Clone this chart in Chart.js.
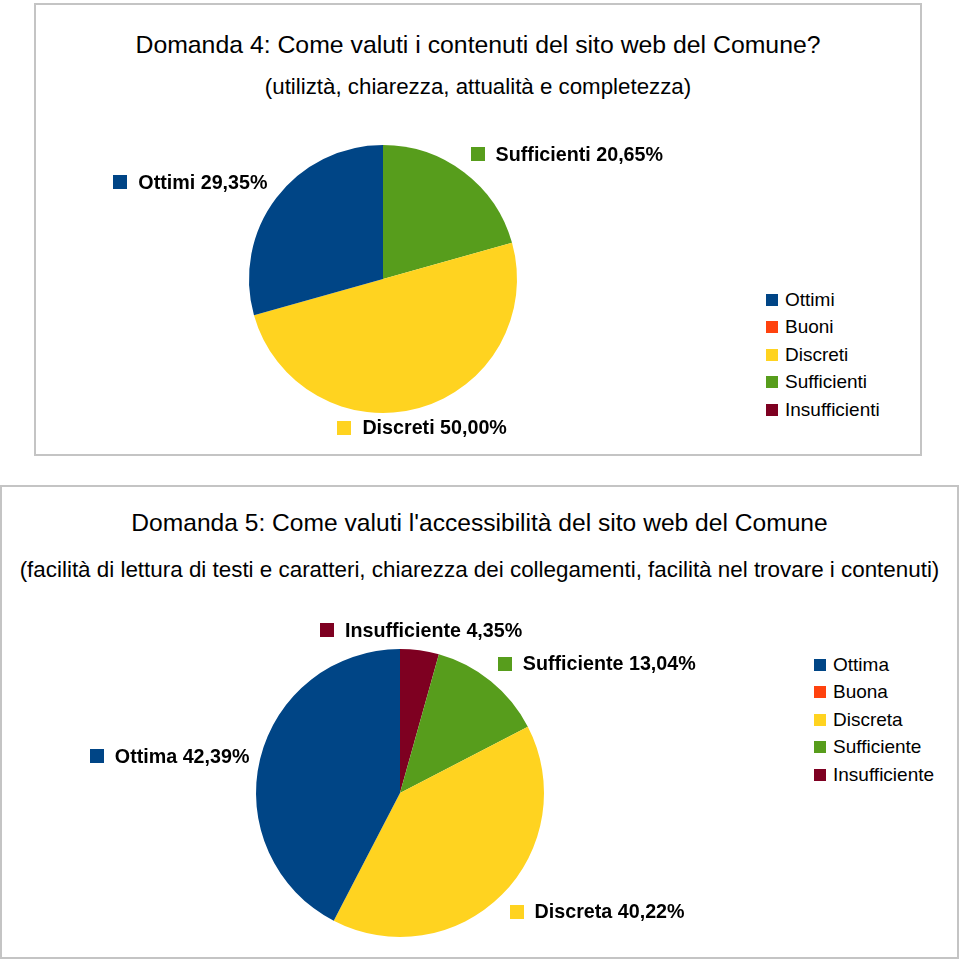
<!DOCTYPE html>
<html><head><meta charset="utf-8">
<script src="https://cdn.jsdelivr.net/npm/chart.js@4.4.1/dist/chart.umd.min.js"></script>
<style>
html,body{margin:0;padding:0;background:#fff;}
body{width:960px;height:960px;position:relative;overflow:hidden;font-family:"Liberation Sans",Arial,sans-serif;color:#000;}
.panel{position:absolute;border:2px solid #c4c4c4;box-sizing:border-box;}
.title{position:absolute;text-align:center;white-space:nowrap;}
canvas{position:absolute;left:0;}
.legend{position:absolute;font-size:19px;}
.legend .item{display:flex;align-items:center;height:27.5px;white-space:nowrap;}
.legend .sw{width:12px;height:12px;margin-right:7px;flex:none;}
</style></head><body>
<div class="panel" style="left:34px;top:3px;width:888px;height:453px"></div>
<div class="panel" style="left:0;top:485px;width:959px;height:474px"></div>
<div class="title" id="t1" style="left:34px;width:888px;top:30px;font-size:24.8px;line-height:30px"></div>
<div class="title" id="s1" style="left:34px;width:888px;top:74px;font-size:22.3px;line-height:26px"></div>
<div class="title" id="t2" style="left:0;width:959px;top:508px;font-size:24.6px;line-height:30px"></div>
<div class="title" id="s2" style="left:0;width:959px;top:557px;font-size:22.4px;line-height:26px"></div>
<div class="legend" id="lg1" style="left:766px;top:286px"></div>
<div class="legend" id="lg2" style="left:814px;top:651px"></div>
<canvas id="c1" width="960" height="480" style="top:0"></canvas>
<canvas id="c2" width="960" height="480" style="top:480px"></canvas>
<script>
const title1 = 'Domanda 4: Come valuti i contenuti del sito web del Comune?';
const subtitle1 = '(utiliztà, chiarezza, attualità e completezza)';
const categories1 = ['Ottimi', 'Buoni', 'Discreti', 'Sufficienti', 'Insufficienti'];
const values1 = [29.35, 0, 50.00, 20.65, 0];

const title2 = "Domanda 5: Come valuti l'accessibilità del sito web del Comune";
const subtitle2 = '(facilità di lettura di testi e caratteri, chiarezza dei collegamenti, facilità nel trovare i contenuti)';
const categories2 = ['Ottima', 'Buona', 'Discreta', 'Sufficiente', 'Insufficiente'];
const values2 = [42.39, 0, 40.22, 13.04, 4.35];

const colors = ['#004586', '#ff420e', '#ffd320', '#579d1c', '#7e0021'];

document.getElementById('t1').textContent = title1;
document.getElementById('s1').textContent = subtitle1;
document.getElementById('t2').textContent = title2;
document.getElementById('s2').textContent = subtitle2;

const fmt = v => v.toFixed(2).replace('.', ',') + '%';

const pieLabels = {
  id: 'pieLabels',
  afterDatasetsDraw(chart, args, opts) {
    const ctx = chart.ctx;
    const meta = chart.getDatasetMeta(0);
    const ds = chart.data.datasets[0];
    ctx.save();
    ctx.font = 'bold 19.7px "Liberation Sans", Arial, sans-serif';
    ctx.textBaseline = 'middle';
    ctx.textAlign = 'left';
    meta.data.forEach((arc, i) => {
      const v = ds.data[i];
      if (!v) return;
      const p = arc.getProps(['x', 'y', 'startAngle', 'endAngle', 'outerRadius'], true);
      const mid = (p.startAngle + p.endAngle) / 2;
      const dx = Math.cos(mid), dy = Math.sin(mid);
      const R = p.outerRadius + opts.gap;
      const ax = p.x + dx * R, ay = p.y + dy * R;
      const text = chart.data.labels[i] + ' ' + fmt(v);
      const tw = ctx.measureText(text).width;
      const w = opts.box + opts.space + tw;
      const left = Math.abs(dx) < 0.35 ? ax - w / 2 : (dx > 0 ? ax : ax - w);
      const cy = Math.abs(dy) < 0.35 ? ay : (dy > 0 ? ay + opts.height / 2 : ay - opts.height / 2);
      ctx.fillStyle = ds.backgroundColor[i];
      ctx.fillRect(Math.round(left), Math.round(cy - opts.box / 2), opts.box, opts.box);
      ctx.fillStyle = '#000';
      ctx.fillText(text, left + opts.box + opts.space, cy + 1);
    });
    ctx.restore();
  }
};

function makePie(id, categories, values, padding) {
  // LibreOffice draws the series counter-clockwise from 12 o'clock:
  // feed Chart.js the reversed order so it runs clockwise.
  const labels = categories.slice().reverse();
  const data = values.slice().reverse();
  const bg = colors.slice().reverse();
  return new Chart(document.getElementById(id), {
    type: 'pie',
    data: { labels, datasets: [{ data, backgroundColor: bg, borderWidth: 0, hoverOffset: 0, offset: 0 }] },
    options: {
      responsive: false,
      animation: false,
      devicePixelRatio: 1,
      rotation: 0,
      layout: { padding },
      plugins: {
        legend: { display: false },
        tooltip: { enabled: false },
        pieLabels: { gap: 11, box: 14, space: 11, height: 18 }
      },
      events: []
    },
    plugins: [pieLabels]
  });
}

function makeLegend(elId, chart) {
  const items = Chart.overrides.pie.plugins.legend.labels.generateLabels(chart).slice().reverse();
  const el = document.getElementById(elId);
  items.forEach(it => {
    const row = document.createElement('div');
    row.className = 'item';
    const sw = document.createElement('span');
    sw.className = 'sw';
    sw.style.background = it.fillStyle;
    const tx = document.createElement('span');
    tx.textContent = it.text;
    row.appendChild(sw); row.appendChild(tx);
    el.appendChild(row);
  });
}

const chart1 = makePie('c1', categories1, values1, { left: 249, right: 443, top: 145, bottom: 67 });
const chart2 = makePie('c2', categories2, values2, { left: 256, right: 416, top: 169, bottom: 23 });
makeLegend('lg1', chart1);
makeLegend('lg2', chart2);
</script>
</body></html>
